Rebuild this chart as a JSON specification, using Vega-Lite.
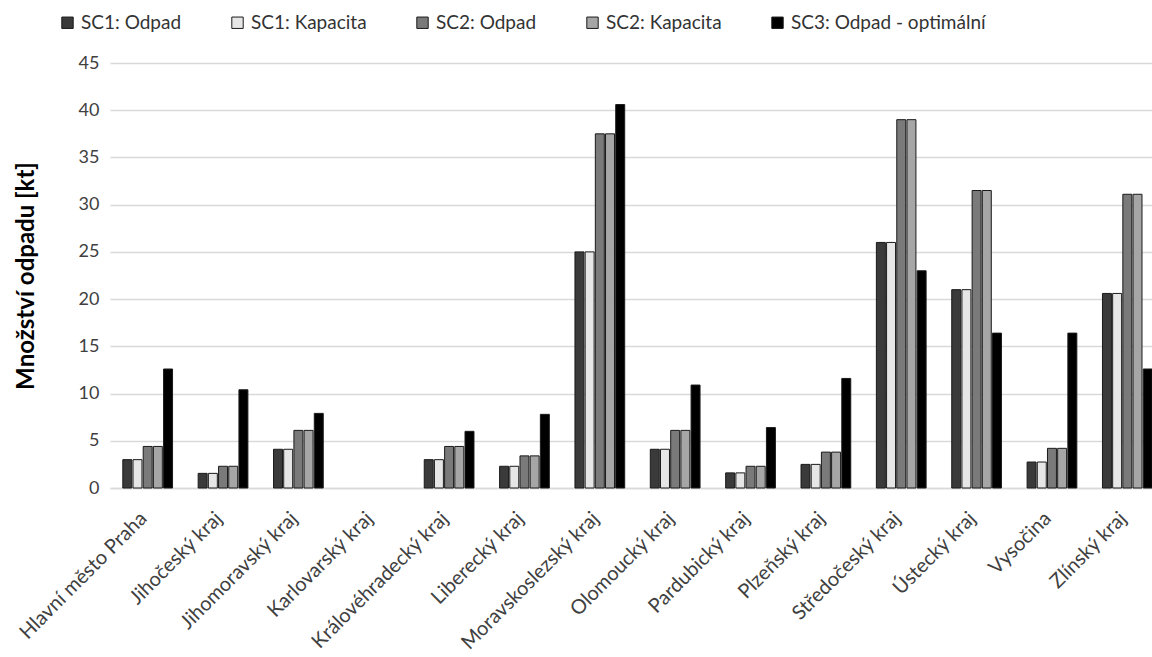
{
  "$schema": "https://vega.github.io/schema/vega-lite/v6.json",
  "width": 1042,
  "height": 425,
  "autosize": {"type": "none"},
  "padding": {"left": 110, "top": 63, "right": 0, "bottom": 169},
  "background": "white",
  "config": {
    "font": "Lato",
    "view": {"stroke": null},
    "axis": {"labelFont": "Lato", "titleFont": "Lato"},
    "legend": {"labelFont": "Lato"}
  },
  "data": {
    "values": [
      {"kraj": "Hlavní město Praha", "SC1: Odpad": 3.0, "SC1: Kapacita": 3.0, "SC2: Odpad": 4.4, "SC2: Kapacita": 4.4, "SC3: Odpad - optimální": 12.6},
      {"kraj": "Jihočeský kraj", "SC1: Odpad": 1.55, "SC1: Kapacita": 1.55, "SC2: Odpad": 2.3, "SC2: Kapacita": 2.3, "SC3: Odpad - optimální": 10.4},
      {"kraj": "Jihomoravský kraj", "SC1: Odpad": 4.1, "SC1: Kapacita": 4.1, "SC2: Odpad": 6.1, "SC2: Kapacita": 6.1, "SC3: Odpad - optimální": 7.9},
      {"kraj": "Karlovarský kraj", "SC1: Odpad": 0, "SC1: Kapacita": 0, "SC2: Odpad": 0, "SC2: Kapacita": 0, "SC3: Odpad - optimální": 0},
      {"kraj": "Královéhradecký kraj", "SC1: Odpad": 3.0, "SC1: Kapacita": 3.0, "SC2: Odpad": 4.4, "SC2: Kapacita": 4.4, "SC3: Odpad - optimální": 6.0},
      {"kraj": "Liberecký kraj", "SC1: Odpad": 2.3, "SC1: Kapacita": 2.3, "SC2: Odpad": 3.4, "SC2: Kapacita": 3.4, "SC3: Odpad - optimální": 7.8},
      {"kraj": "Moravskoslezský kraj", "SC1: Odpad": 25.0, "SC1: Kapacita": 25.0, "SC2: Odpad": 37.5, "SC2: Kapacita": 37.5, "SC3: Odpad - optimální": 40.6},
      {"kraj": "Olomoucký kraj", "SC1: Odpad": 4.1, "SC1: Kapacita": 4.1, "SC2: Odpad": 6.1, "SC2: Kapacita": 6.1, "SC3: Odpad - optimální": 10.9},
      {"kraj": "Pardubický kraj", "SC1: Odpad": 1.6, "SC1: Kapacita": 1.6, "SC2: Odpad": 2.3, "SC2: Kapacita": 2.3, "SC3: Odpad - optimální": 6.4},
      {"kraj": "Plzeňský kraj", "SC1: Odpad": 2.5, "SC1: Kapacita": 2.5, "SC2: Odpad": 3.8, "SC2: Kapacita": 3.8, "SC3: Odpad - optimální": 11.6},
      {"kraj": "Středočeský kraj", "SC1: Odpad": 26.0, "SC1: Kapacita": 26.0, "SC2: Odpad": 39.0, "SC2: Kapacita": 39.0, "SC3: Odpad - optimální": 23.0},
      {"kraj": "Ústecký kraj", "SC1: Odpad": 21.0, "SC1: Kapacita": 21.0, "SC2: Odpad": 31.5, "SC2: Kapacita": 31.5, "SC3: Odpad - optimální": 16.4},
      {"kraj": "Vysočina", "SC1: Odpad": 2.75, "SC1: Kapacita": 2.75, "SC2: Odpad": 4.2, "SC2: Kapacita": 4.2, "SC3: Odpad - optimální": 16.4},
      {"kraj": "Zlínský kraj", "SC1: Odpad": 20.6, "SC1: Kapacita": 20.6, "SC2: Odpad": 31.1, "SC2: Kapacita": 31.1, "SC3: Odpad - optimální": 12.6}
    ]
  },
  "transform": [
    {"fold": ["SC1: Odpad", "SC1: Kapacita", "SC2: Odpad", "SC2: Kapacita", "SC3: Odpad - optimální"], "as": ["serie", "hodnota"]}
  ],
  "mark": {"type": "bar", "stroke": "#1a1a1a", "strokeWidth": 1},
  "encoding": {
    "x": {
      "field": "kraj", "type": "nominal", "sort": null,
      "scale": {"range": [0, 1055], "paddingInner": 0.34, "paddingOuter": 0.17},
      "axis": {"title": null, "labelAngle": -45, "labelAlign": "right", "labelBaseline": "top", "labelFontSize": 20, "labelColor": "#404040", "ticks": false, "domainColor": "#d9d9d9", "domainWidth": 1.5, "labelPadding": 20, "labelOffset": -11, "labelLimit": 300}
    },
    "xOffset": {
      "field": "serie", "type": "nominal",
      "sort": ["SC1: Odpad", "SC1: Kapacita", "SC2: Odpad", "SC2: Kapacita", "SC3: Odpad - optimální"],
      "scale": {"paddingInner": 0.12}
    },
    "y": {
      "field": "hodnota", "type": "quantitative",
      "scale": {"domain": [0, 45], "nice": false},
      "axis": {"title": "Množství odpadu [kt]", "titleFontSize": 24, "titleFontWeight": "bold", "titleColor": "#000000", "titlePadding": 40, "values": [0, 5, 10, 15, 20, 25, 30, 35, 40, 45], "labelFontSize": 18, "labelColor": "#404040", "ticks": false, "domain": false, "gridColor": "#d9d9d9", "gridWidth": 1.5, "labelPadding": 11}
    },
    "opacity": {
      "condition": {"test": "datum.hodnota > 0", "value": 1},
      "value": 0
    },
    "color": {
      "field": "serie", "type": "nominal",
      "sort": ["SC1: Odpad", "SC1: Kapacita", "SC2: Odpad", "SC2: Kapacita", "SC3: Odpad - optimální"],
      "scale": {"domain": ["SC1: Odpad", "SC1: Kapacita", "SC2: Odpad", "SC2: Kapacita", "SC3: Odpad - optimální"], "range": ["#3a3a3a", "#e6e6e6", "#7a7a7a", "#a6a6a6", "#000000"]},
      "legend": {"title": null, "orient": "none", "legendX": -52, "legendY": -50, "direction": "horizontal", "columns": 5, "labelFontSize": 19, "labelColor": "#333333", "labelLimit": 400, "symbolType": "square", "symbolSize": 130, "symbolStrokeColor": "#1a1a1a", "symbolStrokeWidth": 1, "symbolOpacity": 1, "columnPadding": 46, "labelOffset": 4}
    }
  }
}
